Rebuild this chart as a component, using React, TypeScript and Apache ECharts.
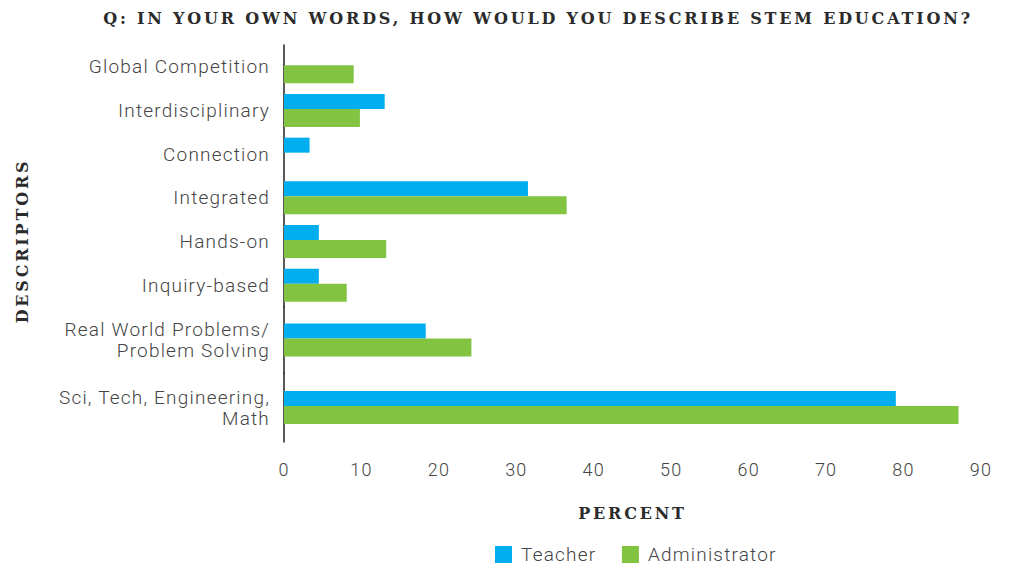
import React, { useEffect, useRef } from "react";
import * as echarts from "echarts";

const categories = [
  "Global Competition",
  "Interdisciplinary",
  "Connection",
  "Integrated",
  "Hands-on",
  "Inquiry-based",
  "Real World Problems/\nProblem Solving",
  "Sci, Tech, Engineering,\nMath",
];
const teacher: (number | null)[] = [null, 13.0, 3.3, 31.5, 4.5, 4.5, 18.3, 79.0];
const administrator: (number | null)[] = [9.0, 9.8, null, 36.5, 13.2, 8.1, 24.2, 87.1];
const seriesNames = ["Teacher", "Administrator"];
const xMin = 0;
const xMax = 90;
const xStep = 10;
const titleText = "Q: IN YOUR OWN WORDS, HOW WOULD YOU DESCRIBE STEM EDUCATION?";
const xName = "PERCENT";
const yName = "DESCRIPTORS";

// category groups (index ranges) each drawn in its own band of the plot
const groups: [number, number][] = [
  [0, 6],
  [6, 7],
  [7, 8],
];
const bands: [number, number][] = [
  [45, 307],
  [307, 373],
  [373, 442],
];

const BLUE = "#00ADEE";
const GREEN = "#82C341";
const SANS = "Roboto";
const SERIF = "'DejaVu Serif'";

export default function App() {
  const ref = useRef<HTMLDivElement>(null);
  useEffect(() => {
    if (!ref.current) return;
    const chart = echarts.init(ref.current, undefined, { renderer: "svg" });
    const last = groups.length - 1;
    const grid = bands.map(([t, b]) => ({
      left: 284,
      right: 30,
      top: t,
      height: b - t,
      containLabel: false,
    }));
    const xAxis = groups.map((_, i) => ({
      type: "value",
      gridIndex: i,
      min: xMin,
      max: xMax,
      interval: xStep,
      show: i === last,
      axisLine: { show: false },
      axisTick: { show: false },
      splitLine: { show: false },
      axisLabel: {
        margin: 18,
        fontSize: 18,
        color: "#444",
        fontFamily: SANS,
        fontWeight: 300,
      },
      name: i === last ? xName : "",
      nameLocation: "middle",
      nameGap: 63,
      nameTextStyle: {
        fontFamily: SERIF,
        fontWeight: "bold",
        fontSize: 16,
        color: "#2b2b2b",
      },
    }));
    const yAxis = groups.map(([a, b], i) => ({
      type: "category",
      gridIndex: i,
      inverse: true,
      data: categories.slice(a, b),
      axisLine: { show: true, lineStyle: { color: "#222", width: 1.5 } },
      axisTick: { show: false },
      splitLine: { show: false },
      axisLabel: {
        margin: 14,
        fontSize: 19,
        lineHeight: 21,
        color: "#444",
        fontFamily: SANS,
        fontWeight: 300,
        align: "right",
      },
    }));
    const series: any[] = [];
    groups.forEach(([a, b], i) => {
      series.push({
        type: "bar",
        name: seriesNames[0],
        xAxisIndex: i,
        yAxisIndex: i,
        data: teacher.slice(a, b),
        barWidth: 15,
        barGap: "0%",
        itemStyle: { color: BLUE },
      });
      series.push({
        type: "bar",
        name: seriesNames[1],
        xAxisIndex: i,
        yAxisIndex: i,
        data: administrator.slice(a, b),
        barWidth: 18,
        barGap: "0%",
        itemStyle: { color: GREEN },
      });
    });
    chart.setOption({
      animation: false,
      backgroundColor: "#fff",
      grid,
      xAxis,
      yAxis,
      series,
      legend: {
        data: seriesNames,
        left: 495,
        top: 545,
        itemWidth: 17,
        itemHeight: 17,
        itemGap: 34,
        icon: "rect",
        padding: 0,
        textStyle: {
          fontSize: 19,
          color: "#444",
          fontFamily: SANS,
          fontWeight: 300,
          padding: [0, 0, 0, 4],
        },
      },
      graphic: [
        {
          type: "text",
          x: 538,
          y: 18,
          style: {
            text: titleText,
            fill: "#2b2b2b",
            fontFamily: SERIF,
            fontWeight: "bold",
            fontSize: 16,
            align: "center",
            verticalAlign: "middle",
          },
        },
        {
          type: "text",
          x: 22,
          y: 241,
          rotation: Math.PI / 2,
          style: {
            text: yName,
            fill: "#2b2b2b",
            fontFamily: SERIF,
            fontWeight: "bold",
            fontSize: 16,
            align: "center",
            verticalAlign: "middle",
          },
        },
      ],
    });
    return () => chart.dispose();
  }, []);
  return (
    <>
      <style>{`#chartbox text { letter-spacing: 1.2px; } #chartbox text[style*="Serif"] { letter-spacing: 2.8px; }`}</style>
      <div
        id="chartbox"
        ref={ref}
        style={{ position: "fixed", left: 0, top: 0, width: 1011, height: 565 }}
      />
    </>
  );
}
